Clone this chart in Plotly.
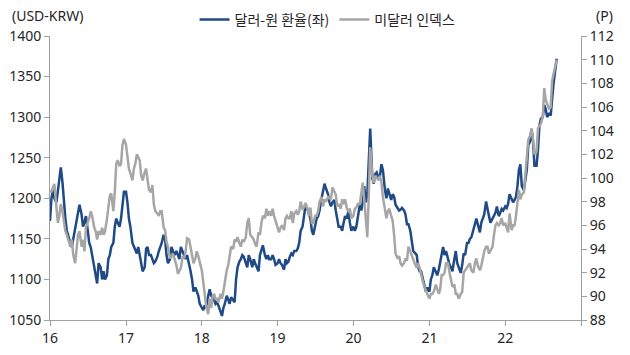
import pandas as pd
import plotly.graph_objects as go

# ---- data (weekly-ish readings: days 1, 8, 15, 22 of each month) ----
krw16 = [1172, 1200, 1210, 1200, 1195, 1210, 1230, 1238, 1220, 1195, 1175, 1160,
         1150, 1145, 1140, 1150, 1165, 1170, 1185, 1192, 1180, 1165, 1170, 1178,
         1160, 1145, 1140, 1130, 1115, 1110, 1095, 1120, 1115, 1100, 1110, 1100,
         1105, 1125, 1130, 1140, 1145, 1165, 1175, 1170, 1165, 1175, 1195, 1208]
krw17 = [1208, 1195, 1175, 1165, 1145, 1140, 1135, 1132, 1140, 1130, 1120, 1110,
         1115, 1138, 1140, 1130, 1130, 1125, 1120, 1122, 1128, 1135, 1140, 1145,
         1155, 1150, 1130, 1120, 1125, 1140, 1135, 1130, 1135, 1130, 1125, 1140,
         1135, 1130, 1125, 1130, 1120, 1110, 1100, 1085, 1090, 1085, 1080, 1070]
krw18 = [1065, 1062, 1068, 1065, 1080, 1088, 1080, 1078, 1075, 1070, 1072, 1068,
         1060, 1055, 1065, 1070, 1080, 1075, 1070, 1078, 1075, 1072, 1100, 1115,
         1122, 1125, 1130, 1128, 1120, 1115, 1130, 1125, 1115, 1125, 1120, 1115,
         1110, 1130, 1135, 1142, 1130, 1125, 1130, 1125, 1125, 1130, 1125, 1118]
krw19 = [1120, 1125, 1120, 1118, 1112, 1125, 1120, 1122, 1128, 1132, 1130, 1135,
         1135, 1138, 1145, 1160, 1165, 1175, 1190, 1188, 1182, 1175, 1160, 1155,
         1168, 1175, 1178, 1185, 1200, 1210, 1218, 1212, 1205, 1195, 1190, 1195,
         1198, 1185, 1175, 1165, 1165, 1160, 1170, 1178, 1175, 1185, 1170, 1160]
krw20 = [1165, 1160, 1165, 1178, 1192, 1185, 1195, 1215, 1195, 1205, 1240, 1286,
         1225, 1218, 1230, 1232, 1225, 1228, 1242, 1235, 1210, 1200, 1212, 1205,
         1198, 1205, 1202, 1192, 1188, 1185, 1186, 1188, 1185, 1180, 1168, 1168,
         1160, 1150, 1135, 1133, 1130, 1115, 1110, 1110, 1100, 1092, 1085, 1090]
krw21 = [1085, 1100, 1105, 1115, 1110, 1105, 1112, 1122, 1128, 1140, 1130, 1135,
         1125, 1118, 1115, 1110, 1125, 1135, 1120, 1115, 1108, 1118, 1132, 1130,
         1145, 1145, 1150, 1152, 1160, 1168, 1175, 1168, 1158, 1170, 1175, 1180,
         1196, 1185, 1178, 1170, 1175, 1180, 1182, 1190, 1178, 1182, 1187, 1185]
krw22 = [1190, 1188, 1193, 1205, 1198, 1195, 1198, 1202, 1215, 1235, 1242, 1215,
         1210, 1225, 1235, 1265, 1270, 1285, 1270, 1240, 1240, 1260, 1290, 1298,
         1300, 1315, 1310, 1300, 1305, 1302, 1325, 1342, 1372]

dxy16 = [99.0, 98.8, 99.2, 99.5, 97.5, 96.2, 96.8, 97.8, 97.2, 96.2, 95.5, 95.2,
         94.5, 94.2, 94.8, 93.5, 92.8, 94.2, 95.2, 95.5, 94.2, 94.8, 93.8, 95.8,
         96.2, 96.6, 97.2, 96.8, 95.8, 95.5, 94.8, 95.5, 95.2, 95.8, 95.2, 95.5,
         96.5, 97.6, 98.5, 98.7, 97.2, 98.8, 101.2, 101.5, 101.0, 101.2, 102.8, 103.3]
dxy17 = [102.8, 101.8, 100.8, 100.4, 99.8, 100.8, 101.2, 102.0, 101.8, 101.5, 100.2, 99.8,
         100.5, 100.8, 99.8, 99.0, 98.8, 99.4, 97.8, 97.2, 97.0, 96.8, 97.2, 97.2,
         95.8, 95.6, 94.6, 94.2, 93.2, 93.4, 93.6, 93.2, 92.6, 91.9, 92.2, 92.4,
         93.4, 93.2, 93.8, 94.9, 94.8, 94.2, 93.4, 92.8, 93.2, 93.8, 93.4, 92.8]
dxy18 = [92.2, 91.2, 90.2, 89.2, 88.5, 89.8, 89.0, 90.0, 90.2, 89.8, 89.8, 89.5,
         90.2, 89.8, 90.4, 91.2, 92.2, 92.6, 93.4, 94.2, 94.0, 94.8, 94.6, 95.0,
         94.5, 94.2, 94.8, 94.6, 95.0, 96.2, 96.6, 95.2, 95.0, 94.8, 94.4, 94.2,
         95.4, 95.2, 96.2, 96.8, 96.6, 97.4, 96.8, 97.2, 96.8, 97.4, 96.8, 96.4]
dxy19 = [95.8, 95.4, 95.8, 96.0, 95.6, 96.6, 96.8, 96.6, 96.6, 97.2, 96.2, 97.0,
         97.2, 96.9, 97.2, 98.0, 97.4, 97.5, 97.9, 97.6, 96.8, 97.5, 96.2, 96.2,
         96.8, 96.8, 97.2, 98.0, 98.4, 97.6, 98.2, 98.0, 98.4, 98.3, 98.2, 99.2,
         98.8, 98.6, 97.6, 97.8, 97.4, 98.2, 97.8, 98.2, 97.4, 97.2, 97.4, 96.6]
dxy20 = [96.8, 97.4, 97.5, 97.8, 97.8, 98.6, 99.6, 98.2, 96.0, 95.0, 98.5, 102.6,
         100.2, 99.6, 100.2, 100.0, 99.8, 100.2, 99.6, 98.4, 97.2, 96.6, 97.2, 97.4,
         96.8, 96.4, 95.2, 93.6, 93.2, 93.4, 92.8, 92.6, 92.8, 93.2, 93.0, 94.2,
         93.8, 93.4, 93.2, 92.8, 92.4, 92.8, 92.4, 91.8, 91.2, 90.8, 90.4, 90.2]
dxy21 = [89.8, 90.2, 90.2, 90.4, 91.0, 90.6, 90.2, 90.6, 91.8, 91.8, 92.0, 92.8,
         92.8, 92.0, 91.2, 90.8, 91.0, 90.2, 90.2, 89.8, 90.2, 90.4, 92.0, 92.2,
         92.4, 92.6, 92.8, 92.2, 92.0, 92.8, 93.2, 92.6, 92.2, 92.6, 93.2, 93.8,
         94.2, 94.2, 93.6, 93.8, 94.2, 95.2, 96.0, 96.2, 96.0, 96.2, 96.6, 96.0]
dxy22 = [96.2, 95.8, 95.4, 97.0, 95.6, 96.0, 96.0, 96.8, 97.8, 99.0, 98.2, 98.6,
         98.8, 100.2, 101.2, 103.2, 103.6, 104.2, 103.2, 102.0, 102.2, 104.2, 104.4, 104.6,
         105.2, 107.6, 106.6, 106.2, 105.8, 106.0, 108.2, 108.8, 110.0]

years = [2016, 2017, 2018, 2019, 2020, 2021, 2022]
week_days = [1, 8, 15, 22]
year_ticks = ["16", "17", "18", "19", "20", "21", "22", ""]

krw = krw16 + krw17 + krw18 + krw19 + krw20 + krw21 + krw22
dxy = dxy16 + dxy17 + dxy18 + dxy19 + dxy20 + dxy21 + dxy22

dates = []
for y in years:
    for m in range(1, 13):
        if y == 2022 and m > 8:
            continue
        for d in week_days:
            dates.append(pd.Timestamp(y, m, d))
dates.append(pd.Timestamp(2022, 9, 6))

BLUE = "#1F4A86"
GRAY = "#A6A6A6"
FONT_KR = "Noto Sans CJK KR"
FONT = "Noto Sans"
TXT = "#262626"

fig = go.Figure()
fig.add_trace(go.Scatter(x=dates, y=krw, mode="lines", name="달러-원 환율(좌)",
                         line=dict(color=BLUE, width=2.5), yaxis="y"))
fig.add_trace(go.Scatter(x=dates, y=dxy, mode="lines", name="미달러 인덱스",
                         line=dict(color=GRAY, width=2.5), yaxis="y2"))

axis_line = "#A0A0A0"
tick_vals = [pd.Timestamp(y, 1, 1) for y in years + [2023]]

common_axis = dict(showline=True, linecolor=axis_line, linewidth=1,
                   ticks="outside", ticklen=5, tickcolor=axis_line,
                   showgrid=False, zeroline=False, automargin=False,
                   tickfont=dict(family=FONT, size=14, color=TXT))

fig.update_layout(
    template="none",
    width=630, height=355,
    margin=dict(l=50, r=49, t=36, b=35, autoexpand=False),
    paper_bgcolor="white", plot_bgcolor="white",
    font=dict(family=FONT, size=14, color=TXT),
    showlegend=True,
    legend=dict(orientation="h", xref="container", yref="container",
                x=0.52, xanchor="center", y=0.944, yanchor="middle",
                font=dict(family=FONT_KR, size=14, color=TXT),
                bgcolor="rgba(0,0,0,0)", itemwidth=30, tracegroupgap=0),
    xaxis=dict(type="date", range=["2016-01-01", "2023-01-01"],
               tickvals=tick_vals, ticktext=year_ticks, **common_axis),
    yaxis=dict(range=[1050, 1400], dtick=50, tick0=1050, **common_axis),
    yaxis2=dict(range=[88, 112], dtick=2, tick0=88, overlaying="y", side="right",
                **common_axis),
    annotations=[
        dict(text="(USD-KRW)", xref="paper", yref="paper", x=-0.0753, y=1.072,
             xanchor="left", yanchor="middle", showarrow=False,
             font=dict(family=FONT, size=14, color=TXT)),
        dict(text="(P)", xref="paper", yref="paper", x=1.045, y=1.072,
             xanchor="center", yanchor="middle", showarrow=False,
             font=dict(family=FONT, size=14, color=TXT)),
    ],
)

fig.write_html("out.html", config={"displayModeBar": False},
               post_script="document.body.style.margin='0';document.body.style.overflow='hidden';")
